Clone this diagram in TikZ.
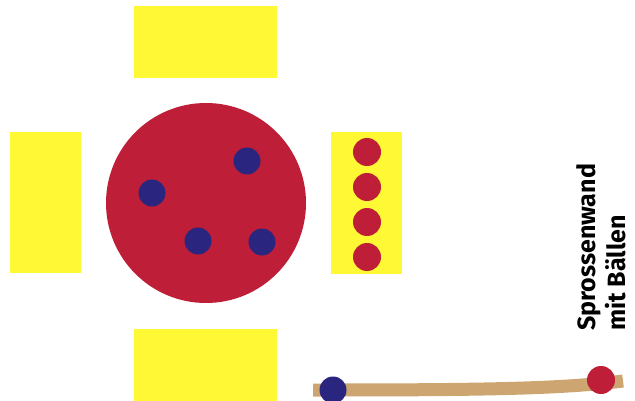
\documentclass[tikz,border=0pt]{standalone}
\usepackage{fontspec}
\setmainfont{Fira Sans}
\definecolor{matyellow}{RGB}{255,248,52}
\definecolor{balred}{RGB}{190,30,55}
\definecolor{balblue}{RGB}{42,38,128}
\definecolor{bartan}{RGB}{205,165,112}
\begin{document}
\begin{tikzpicture}[x=1pt,y=-1pt,
  mat/.style={fill=matyellow,draw=none,inner sep=0pt},
  redball/.style={circle,fill=balred,draw=none,minimum size=28pt,inner sep=0pt},
  blueball/.style={circle,fill=balblue,draw=none,minimum size=27pt,inner sep=0pt}]
\clip (0,0) rectangle (635,401);
\fill[white] (0,0) rectangle (635,401);
% mats
\fill[matyellow] (134,6) rectangle (277,78);
\fill[matyellow] (10,132) rectangle (81,273);
\fill[matyellow] (331,132) rectangle (402,274);
\fill[matyellow] (134,329) rectangle (277,401);
% big circle
\node[circle,fill=balred,minimum size=200pt,inner sep=0pt] (big) at (206,203) {};
\node[blueball] (b1) at (247,161) {};
\node[blueball] (b2) at (152,193) {};
\node[blueball] (b3) at (198,241) {};
\node[blueball] (b4) at (262,242) {};
% balls on wall bars
\node[redball] (r1) at (367,152) {};
\node[redball] (r2) at (367,187) {};
\node[redball] (r3) at (367,222) {};
\node[redball] (r4) at (367,257) {};
% bar
\coordinate (barL) at (313,390);
\coordinate (barR) at (623,381);
\draw[bartan,line width=13pt] (barL) .. controls (480,390) and (560,389) .. (barR);
\node[blueball] (bb) at (333,390) {};
\node[redball] (rb) at (601,380) {};
% label
\node[rotate=90,anchor=south west,align=left,font=\bfseries\fontsize{25}{30}\selectfont,inner sep=0pt] (lab) at (626,331) {Sprossenwand\\mit Bällen};
\end{tikzpicture}
\end{document}
